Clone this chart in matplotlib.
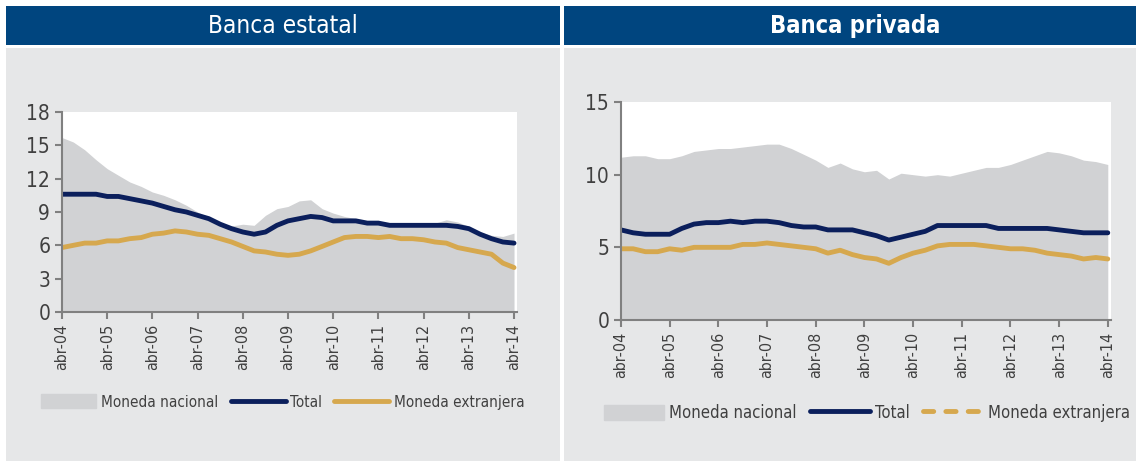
import matplotlib
matplotlib.use("Agg")
import matplotlib.pyplot as plt
from matplotlib.patches import Rectangle, Patch
from matplotlib.lines import Line2D
import pandas as pd

plt.rcParams['font.family'] = ['DejaVu Sans']
plt.rcParams['font.stretch'] = 'condensed'

# datos trimestrales abr-04 .. abr-14
fechas = pd.date_range("2004-04-01", "2014-04-01", freq="3MS")
ticks = pd.date_range("2004-04-01", "2014-04-01", freq="12MS")
tick_labels = ["abr-04", "abr-05", "abr-06", "abr-07", "abr-08", "abr-09",
               "abr-10", "abr-11", "abr-12", "abr-13", "abr-14"]

estatal_mn = [15.7, 15.3, 14.6, 13.7, 12.9, 12.3, 11.7, 11.3, 10.8, 10.5,
              10.1, 9.6, 9.0, 8.5, 8.0, 7.75, 7.9, 7.8, 8.7, 9.3,
              9.5, 10.0, 10.1, 9.3, 8.9, 8.6, 8.4, 8.1, 8.0, 7.9,
              7.9, 7.9, 7.9, 8.0, 8.3, 8.1, 7.7, 7.2, 6.9, 6.8, 7.1]
estatal_total = [10.6, 10.6, 10.6, 10.6, 10.4, 10.4, 10.2, 10.0, 9.8, 9.5,
                 9.2, 9.0, 8.7, 8.4, 7.9, 7.5, 7.2, 7.0, 7.2, 7.8,
                 8.2, 8.4, 8.6, 8.5, 8.2, 8.2, 8.2, 8.0, 8.0, 7.8,
                 7.8, 7.8, 7.8, 7.8, 7.8, 7.7, 7.5, 7.0, 6.6, 6.3, 6.2]
estatal_me = [5.8, 6.0, 6.2, 6.2, 6.4, 6.4, 6.6, 6.7, 7.0, 7.1,
              7.3, 7.2, 7.0, 6.9, 6.6, 6.3, 5.9, 5.5, 5.4, 5.2,
              5.1, 5.2, 5.5, 5.9, 6.3, 6.7, 6.8, 6.8, 6.7, 6.8,
              6.6, 6.6, 6.5, 6.3, 6.2, 5.8, 5.6, 5.4, 5.2, 4.4, 4.0]

privada_mn = [11.2, 11.3, 11.3, 11.1, 11.1, 11.3, 11.6, 11.7, 11.8, 11.8,
              11.9, 12.0, 12.1, 12.1, 11.8, 11.4, 11.0, 10.5, 10.8, 10.4,
              10.2, 10.3, 9.7, 10.1, 10.0, 9.9, 10.0, 9.9, 10.1, 10.3,
              10.5, 10.5, 10.7, 11.0, 11.3, 11.6, 11.5, 11.3, 11.0, 10.9, 10.7]
privada_total = [6.2, 6.0, 5.9, 5.9, 5.9, 6.3, 6.6, 6.7, 6.7, 6.8,
                 6.7, 6.8, 6.8, 6.7, 6.5, 6.4, 6.4, 6.2, 6.2, 6.2,
                 6.0, 5.8, 5.5, 5.7, 5.9, 6.1, 6.5, 6.5, 6.5, 6.5,
                 6.5, 6.3, 6.3, 6.3, 6.3, 6.3, 6.2, 6.1, 6.0, 6.0, 6.0]
privada_me = [4.9, 4.9, 4.7, 4.7, 4.9, 4.8, 5.0, 5.0, 5.0, 5.0,
              5.2, 5.2, 5.3, 5.2, 5.1, 5.0, 4.9, 4.6, 4.8, 4.5,
              4.3, 4.2, 3.9, 4.3, 4.6, 4.8, 5.1, 5.2, 5.2, 5.2,
              5.1, 5.0, 4.9, 4.9, 4.8, 4.6, 4.5, 4.4, 4.2, 4.3, 4.2]

NAVY = "#0B1F5C"
GOLD = "#D6A84E"
GRIS = "#D1D2D4"
PANEL = "#E6E7E8"
HEADER = "#00457F"
W, H = 1136, 461

fig = plt.figure(figsize=(W / 100, H / 100), dpi=100)


def rect(x0, y0, x1, y1, color):
    fig.add_artist(Rectangle((x0 / W, 1 - y1 / H), (x1 - x0) / W, (y1 - y0) / H,
                             transform=fig.transFigure, color=color, lw=0, zorder=0))


# paneles y cabeceras
rect(6, 48, 560, 461, PANEL)
rect(6, 6, 560, 45, HEADER)
rect(564, 48, 1136, 461, PANEL)
rect(564, 6, 1136, 45, HEADER)
fig.text(283 / W, 1 - 26 / H, "Banca estatal", color="white", fontsize=17.5,
         ha="center", va="center")
fig.text(855 / W, 1 - 26 / H, "Banca privada", color="white", fontsize=17,
         ha="center", va="center", fontweight="bold")


def panel(box, mn, total, me, yticks, legend_xy, dashed_leg, leg_fs):
    ax = fig.add_axes(box)
    ax.set_facecolor("white")
    ax.fill_between(fechas, mn, color=GRIS, lw=0)
    ax.plot(fechas, total, color=NAVY, lw=3.5, solid_capstyle="round")
    ax.plot(fechas, me, color=GOLD, lw=3.5, solid_capstyle="round")
    ax.set_xlim(ticks[0], ticks[-1] + pd.Timedelta(days=24))
    ax.set_ylim(yticks[0], yticks[-1])
    ax.set_yticks(yticks)
    ax.set_xticks(ticks)
    ax.set_xticklabels(tick_labels, rotation=90)
    for s in ["top", "right"]:
        ax.spines[s].set_visible(False)
    for s in ["left", "bottom"]:
        ax.spines[s].set_color("#808080")
        ax.spines[s].set_linewidth(1.5)
    ax.tick_params(axis="both", direction="out", length=5, width=1.5,
                   color="#808080", labelcolor="#404040")
    ax.tick_params(axis="y", labelsize=15)
    ax.tick_params(axis="x", labelsize=11.5)
    handles = [Patch(color=GRIS),
               Line2D([], [], color=NAVY, lw=3.5, solid_capstyle="round"),
               Line2D([], [], color=GOLD, lw=3.5,
                      ls=(0, (2.1, 2.5)) if dashed_leg else "-",
                      dash_capstyle="round", solid_capstyle="round")]
    fig.legend(handles, ["Moneda nacional", "Total", "Moneda extranjera"],
               loc="center", bbox_to_anchor=legend_xy, ncol=3, frameon=False,
               fontsize=leg_fs, handlelength=3.6, handleheight=1.0,
               handletextpad=0.3, columnspacing=0.8, labelcolor="#404040")
    return ax


panel([62 / W, 149 / H, 455 / W, 200 / H], estatal_mn, estatal_total, estatal_me,
      [0, 3, 6, 9, 12, 15, 18], (283 / W, 1 - 402 / H), False, 11)
panel([621 / W, 141 / H, 490 / W, 218 / H], privada_mn, privada_total, privada_me,
      [0, 5, 10, 15], (867 / W, 1 - 413 / H), True, 12)

plt.savefig("out.png", dpi=100)
